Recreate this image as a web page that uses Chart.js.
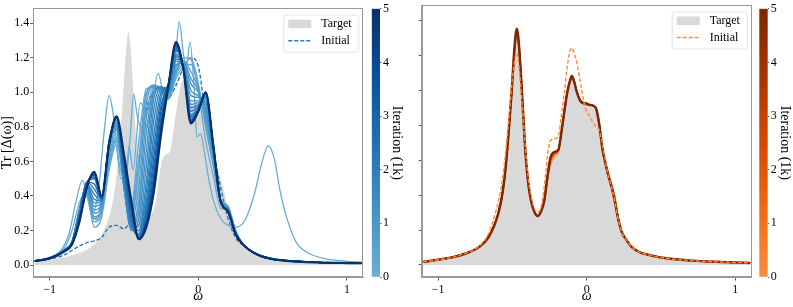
<!DOCTYPE html>
<html>
<head>
<meta charset="utf-8">
<script src="https://cdn.jsdelivr.net/npm/chart.js@4.4.1/dist/chart.umd.min.js"></script>
<style>
  body { margin: 0; background: #fff; }
  #wrap { position: relative; width: 793px; height: 307px; overflow: hidden; }
  #wrap canvas { position: absolute; top: 0; }
</style>
</head>
<body>
<div id="wrap">
  <canvas id="leftChart" width="368" height="307" style="left:0"></canvas>
  <canvas id="leftBar" width="39" height="307" style="left:366px"></canvas>
  <canvas id="rightChart" width="357" height="307" style="left:400px"></canvas>
  <canvas id="rightBar" width="38" height="307" style="left:755px"></canvas>
</div>
<script>
const FONT = "'Liberation Serif', 'Times New Roman', serif";

// ---- data ----
const xTickValues = [-1, 0, 1];
const yTickValues = [0, 0.2, 0.4, 0.6, 0.8, 1.0, 1.2, 1.4];
const colorbarTicks = [0, 1, 2, 3, 4, 5];
const legendLabels = ['Target', 'Initial'];

// target spectrum (grey fill, both panels)
const targetOmega = [-1.1, -1.0, -0.9, -0.8, -0.72, -0.66, -0.62, -0.59, -0.565, -0.545, -0.525, -0.505, -0.485, -0.47,
  -0.455, -0.435, -0.415, -0.395, -0.375, -0.355, -0.33, -0.305, -0.285, -0.265, -0.245, -0.22, -0.19, -0.17, -0.15,
  -0.13, -0.11, -0.1, -0.085, -0.07, -0.04, -0.01, 0.02, 0.045, 0.065, 0.085, 0.105, 0.14, 0.175, 0.19, 0.21, 0.235,
  0.27, 0.3, 0.35, 0.43, 0.55, 0.7, 0.9, 1.1];
const targetValues = [0.018, 0.03, 0.045, 0.07, 0.105, 0.16, 0.23, 0.31, 0.42, 0.56, 0.76, 0.99, 1.25, 1.35,
  1.25, 0.98, 0.68, 0.48, 0.37, 0.31, 0.28, 0.31, 0.37, 0.5, 0.6, 0.64, 0.66, 0.76, 0.88,
  0.99, 1.06, 1.07, 1.05, 1.0, 0.93, 0.92, 0.915, 0.91, 0.89, 0.8, 0.67, 0.53, 0.42, 0.36, 0.27, 0.19,
  0.14, 0.105, 0.075, 0.055, 0.037, 0.025, 0.017, 0.012];

// left panel: runs on a common grid
const omegaGrid = [-1.1, -1.0, -0.9, -0.85, -0.8, -0.75, -0.7, -0.65, -0.6, -0.55, -0.5, -0.45, -0.4, -0.35, -0.3,
  -0.25, -0.2, -0.15, -0.1, -0.05, 0, 0.05, 0.1, 0.15, 0.2, 0.25, 0.3, 0.4, 0.5, 0.6, 0.8, 1.0, 1.1];
const leftInitialValues = [0.022, 0.035, 0.06, 0.085, 0.11, 0.13, 0.14, 0.16, 0.22, 0.23, 0.21, 0.3, 0.6, 0.9, 1.0,
  1.02, 0.97, 1.04, 1.14, 1.2, 1.15, 0.86, 0.66, 0.45, 0.27, 0.16, 0.115, 0.06, 0.038, 0.027, 0.017, 0.013, 0.011];
const leftIterations = [0.2, 0.35, 0.5, 0.7, 0.9, 1.1, 1.3, 1.5, 1.7, 1.9, 2.1, 2.35, 2.6, 2.85, 3.1, 3.4, 3.7, 4.3, 5.0];
const leftRuns = [
  [0.024, 0.04, 0.09, 0.14, 0.3, 0.4, 0.22, 0.28, 0.55, 0.7, 0.5, 0.35, 0.72, 1.02, 1.03, 1.0, 0.96, 1.08, 1.15, 1.2, 1.05, 0.8, 0.58, 0.37, 0.33, 0.2, 0.12, 0.062, 0.036, 0.026, 0.016, 0.012, 0.011],
  [0.024, 0.04, 0.09, 0.135, 0.3, 0.41, 0.25, 0.3, 0.58, 0.72, 0.5, 0.32, 0.62, 1.0, 1.03, 1.01, 0.96, 1.1, 1.16, 1.16, 1.04, 0.8, 0.59, 0.37, 0.33, 0.2, 0.12, 0.062, 0.036, 0.026, 0.016, 0.012, 0.011],
  [0.024, 0.04, 0.09, 0.13, 0.3, 0.42, 0.27, 0.32, 0.6, 0.74, 0.48, 0.28, 0.55, 0.98, 1.04, 1.02, 0.97, 1.12, 1.18, 1.12, 1.02, 0.82, 0.6, 0.38, 0.34, 0.2, 0.12, 0.062, 0.036, 0.026, 0.016, 0.012, 0.011],
  [0.024, 0.04, 0.089, 0.13, 0.3, 0.42, 0.28, 0.33, 0.63, 0.76, 0.46, 0.25, 0.46, 0.93, 1.04, 1.02, 0.97, 1.13, 1.18, 1.08, 1.01, 0.85, 0.61, 0.38, 0.34, 0.2, 0.12, 0.062, 0.036, 0.026, 0.016, 0.012, 0.011],
  [0.024, 0.04, 0.088, 0.13, 0.3, 0.43, 0.3, 0.35, 0.66, 0.78, 0.45, 0.22, 0.38, 0.85, 1.03, 1.03, 0.98, 1.15, 1.18, 1.05, 1.0, 0.88, 0.63, 0.37, 0.33, 0.19, 0.12, 0.061, 0.036, 0.026, 0.016, 0.012, 0.011],
  [0.024, 0.04, 0.088, 0.13, 0.31, 0.44, 0.32, 0.35, 0.68, 0.79, 0.45, 0.21, 0.32, 0.76, 1.02, 1.03, 0.99, 1.16, 1.17, 1.01, 0.98, 0.9, 0.64, 0.37, 0.33, 0.19, 0.12, 0.061, 0.036, 0.026, 0.016, 0.012, 0.011],
  [0.024, 0.04, 0.087, 0.13, 0.32, 0.45, 0.34, 0.36, 0.7, 0.8, 0.45, 0.2, 0.27, 0.66, 1.0, 1.03, 1.0, 1.18, 1.16, 0.98, 0.97, 0.92, 0.65, 0.37, 0.32, 0.19, 0.12, 0.061, 0.036, 0.026, 0.016, 0.012, 0.011],
  [0.024, 0.04, 0.087, 0.13, 0.32, 0.46, 0.36, 0.36, 0.71, 0.81, 0.46, 0.21, 0.23, 0.57, 0.96, 1.03, 1.01, 1.19, 1.15, 0.95, 0.95, 0.94, 0.66, 0.37, 0.32, 0.19, 0.12, 0.061, 0.036, 0.026, 0.016, 0.012, 0.011],
  [0.024, 0.04, 0.086, 0.13, 0.32, 0.47, 0.38, 0.37, 0.72, 0.82, 0.48, 0.22, 0.2, 0.48, 0.9, 1.03, 1.02, 1.2, 1.14, 0.93, 0.94, 0.95, 0.67, 0.37, 0.32, 0.19, 0.12, 0.06, 0.035, 0.025, 0.016, 0.012, 0.011],
  [0.024, 0.04, 0.086, 0.13, 0.31, 0.47, 0.41, 0.37, 0.72, 0.83, 0.5, 0.23, 0.18, 0.42, 0.83, 1.02, 1.03, 1.21, 1.14, 0.91, 0.93, 0.96, 0.67, 0.37, 0.32, 0.19, 0.12, 0.06, 0.035, 0.025, 0.016, 0.012, 0.011],
  [0.024, 0.039, 0.085, 0.13, 0.3, 0.48, 0.44, 0.38, 0.72, 0.84, 0.52, 0.25, 0.17, 0.36, 0.75, 1.0, 1.04, 1.22, 1.14, 0.89, 0.92, 0.97, 0.68, 0.37, 0.31, 0.19, 0.12, 0.06, 0.035, 0.025, 0.016, 0.012, 0.011],
  [0.024, 0.039, 0.085, 0.13, 0.29, 0.48, 0.47, 0.38, 0.71, 0.85, 0.54, 0.26, 0.165, 0.33, 0.68, 0.97, 1.05, 1.24, 1.14, 0.87, 0.91, 0.98, 0.69, 0.37, 0.31, 0.19, 0.12, 0.06, 0.035, 0.025, 0.016, 0.012, 0.011],
  [0.024, 0.039, 0.084, 0.13, 0.28, 0.48, 0.5, 0.38, 0.7, 0.85, 0.56, 0.28, 0.16, 0.3, 0.62, 0.93, 1.05, 1.25, 1.14, 0.86, 0.9, 0.99, 0.69, 0.37, 0.31, 0.19, 0.12, 0.06, 0.035, 0.025, 0.016, 0.012, 0.011],
  [0.024, 0.039, 0.084, 0.128, 0.275, 0.47, 0.51, 0.385, 0.7, 0.855, 0.58, 0.3, 0.155, 0.28, 0.57, 0.9, 1.05, 1.26, 1.14, 0.85, 0.895, 0.995, 0.7, 0.37, 0.31, 0.185, 0.12, 0.06, 0.035, 0.025, 0.016, 0.012, 0.011],
  [0.024, 0.039, 0.083, 0.125, 0.27, 0.47, 0.52, 0.39, 0.7, 0.86, 0.6, 0.32, 0.15, 0.26, 0.52, 0.86, 1.05, 1.27, 1.14, 0.84, 0.89, 1.0, 0.7, 0.37, 0.31, 0.18, 0.12, 0.06, 0.035, 0.025, 0.016, 0.012, 0.011],
  [0.024, 0.039, 0.083, 0.122, 0.265, 0.465, 0.525, 0.39, 0.7, 0.86, 0.61, 0.335, 0.15, 0.25, 0.5, 0.83, 1.05, 1.275, 1.14, 0.835, 0.89, 1.0, 0.7, 0.37, 0.31, 0.18, 0.12, 0.06, 0.035, 0.025, 0.016, 0.012, 0.011],
  [0.024, 0.039, 0.082, 0.12, 0.26, 0.46, 0.53, 0.39, 0.7, 0.86, 0.62, 0.35, 0.15, 0.24, 0.47, 0.8, 1.05, 1.28, 1.14, 0.83, 0.89, 1.0, 0.7, 0.37, 0.31, 0.18, 0.12, 0.06, 0.035, 0.025, 0.016, 0.012, 0.011],
  [0.024, 0.039, 0.081, 0.12, 0.25, 0.45, 0.54, 0.4, 0.7, 0.86, 0.63, 0.36, 0.15, 0.23, 0.44, 0.78, 1.04, 1.29, 1.13, 0.82, 0.89, 1.0, 0.7, 0.37, 0.31, 0.18, 0.12, 0.06, 0.035, 0.025, 0.016, 0.012, 0.011],
  [0.024, 0.039, 0.08, 0.12, 0.25, 0.45, 0.54, 0.4, 0.7, 0.86, 0.64, 0.37, 0.15, 0.22, 0.42, 0.76, 1.04, 1.29, 1.13, 0.82, 0.89, 1.0, 0.7, 0.37, 0.31, 0.18, 0.12, 0.06, 0.035, 0.025, 0.016, 0.012, 0.011]
];

// two early, very wiggly runs with their own sampling
const leftFirstIteration = 0.05;
const leftFirstOmega = [-1.1, -1.0, -0.92, -0.87, -0.82, -0.78, -0.745, -0.71, -0.67, -0.63, -0.6, -0.57, -0.53, -0.49,
  -0.46, -0.435, -0.41, -0.375, -0.32, -0.27, -0.23, -0.19, -0.155, -0.128, -0.1, -0.08, -0.056, -0.03, -0.01, 0.015,
  0.04, 0.07, 0.1, 0.15, 0.2, 0.26, 0.32, 0.38, 0.43, 0.47, 0.51, 0.55, 0.6, 0.66, 0.74, 0.85, 1.0, 1.1];
const leftFirstValues = [0.025, 0.045, 0.09, 0.18, 0.38, 0.49, 0.4, 0.3, 0.45, 0.8, 0.98, 0.86, 0.58, 0.5,
  0.72, 0.99, 0.86, 0.78, 0.88, 1.11, 0.98, 0.97, 1.18, 1.41, 1.22, 1.15, 1.29, 1.05, 0.74, 0.76,
  0.66, 0.5, 0.38, 0.27, 0.23, 0.22, 0.27, 0.42, 0.6, 0.69, 0.62, 0.43, 0.26, 0.13, 0.07, 0.038, 0.022, 0.017];
const leftSecondIteration = 0.12;
const leftSecondOmega = [-1.1, -1.0, -0.9, -0.85, -0.8, -0.76, -0.72, -0.68, -0.64, -0.6, -0.56, -0.52, -0.49, -0.465,
  -0.44, -0.39, -0.35, -0.3, -0.25, -0.2, -0.15, -0.1, -0.05, 0, 0.05, 0.1, 0.15, 0.2, 0.25, 0.3, 0.4, 0.5, 0.6, 0.8, 1.0, 1.1];
const leftSecondValues = [0.024, 0.042, 0.1, 0.2, 0.36, 0.42, 0.3, 0.26, 0.42, 0.7, 0.72, 0.5, 0.5, 0.69,
  0.55, 0.94, 0.88, 1.0, 1.02, 0.97, 1.1, 1.2, 1.19, 1.0, 0.72, 0.52, 0.33, 0.32, 0.2, 0.12, 0.062, 0.037, 0.026, 0.016, 0.012, 0.011];

// right panel: runs on the target grid
const rightInitialValues = [0.018, 0.03, 0.045, 0.072, 0.11, 0.18, 0.28, 0.38, 0.5, 0.65, 0.82, 1.02, 1.17, 1.21,
  1.13, 0.93, 0.7, 0.51, 0.4, 0.33, 0.3, 0.34, 0.45, 0.62, 0.71, 0.72, 0.74, 0.86, 0.99,
  1.14, 1.23, 1.24, 1.21, 1.17, 1.03, 0.9, 0.85, 0.81, 0.79, 0.77, 0.69, 0.53, 0.42, 0.36, 0.27, 0.19,
  0.14, 0.105, 0.075, 0.055, 0.037, 0.025, 0.017, 0.012];
const rightIterations = [0.3, 1.0, 2.5, 5.0];
const rightRuns = [
  [0.018, 0.03, 0.045, 0.07, 0.105, 0.16, 0.23, 0.31, 0.42, 0.56, 0.75, 0.97, 1.22, 1.31,
    1.22, 0.97, 0.68, 0.48, 0.37, 0.31, 0.285, 0.31, 0.37, 0.48, 0.57, 0.62, 0.65, 0.76, 0.88,
    0.99, 1.06, 1.07, 1.05, 1.0, 0.93, 0.92, 0.915, 0.91, 0.89, 0.8, 0.67, 0.54, 0.44, 0.39, 0.28, 0.19,
    0.14, 0.105, 0.075, 0.055, 0.037, 0.025, 0.017, 0.012],
  [0.018, 0.03, 0.045, 0.07, 0.105, 0.16, 0.23, 0.31, 0.42, 0.56, 0.76, 0.98, 1.24, 1.33,
    1.24, 0.98, 0.68, 0.48, 0.37, 0.31, 0.28, 0.31, 0.37, 0.49, 0.59, 0.63, 0.655, 0.76, 0.88,
    0.99, 1.06, 1.07, 1.05, 1.0, 0.93, 0.92, 0.915, 0.91, 0.89, 0.8, 0.67, 0.535, 0.43, 0.375, 0.275, 0.19,
    0.14, 0.105, 0.075, 0.055, 0.037, 0.025, 0.017, 0.012],
  [0.018, 0.03, 0.045, 0.07, 0.105, 0.16, 0.23, 0.31, 0.42, 0.56, 0.76, 0.99, 1.25, 1.35,
    1.25, 0.98, 0.68, 0.48, 0.37, 0.31, 0.28, 0.31, 0.37, 0.5, 0.6, 0.64, 0.66, 0.76, 0.88,
    0.99, 1.06, 1.07, 1.05, 1.0, 0.93, 0.92, 0.915, 0.91, 0.89, 0.8, 0.67, 0.53, 0.42, 0.36, 0.27, 0.19,
    0.14, 0.105, 0.075, 0.055, 0.037, 0.025, 0.017, 0.012],
  [0.018, 0.03, 0.045, 0.07, 0.105, 0.16, 0.23, 0.31, 0.42, 0.56, 0.76, 0.99, 1.25, 1.35,
    1.25, 0.98, 0.68, 0.48, 0.37, 0.31, 0.28, 0.31, 0.37, 0.5, 0.61, 0.645, 0.66, 0.76, 0.88,
    0.99, 1.06, 1.08, 1.05, 1.0, 0.935, 0.925, 0.915, 0.91, 0.89, 0.8, 0.67, 0.53, 0.42, 0.36, 0.27, 0.19,
    0.14, 0.105, 0.075, 0.055, 0.037, 0.025, 0.017, 0.012]
];

// ---- styling helpers ----
const BLUES = ['#6baed6', '#4292c6', '#2171b5', '#08519c', '#08306b'];
const ORANGES = ['#fd8d3c', '#f16913', '#d94801', '#a63603', '#7f2704'];

function hexToRgb(h) {
  return [1, 3, 5].map(i => parseInt(h.slice(i, i + 2), 16));
}

function mapColor(stops, t) {
  const f = Math.min(Math.max(t / 5, 0), 1) * (stops.length - 1);
  const i = Math.min(Math.floor(f), stops.length - 2);
  const a = hexToRgb(stops[i]), b = hexToRgb(stops[i + 1]);
  const k = f - i;
  const c = a.map((v, j) => Math.round(v + (b[j] - v) * k));
  return `rgb(${c[0]},${c[1]},${c[2]})`;
}

function pairs(xs, ys) {
  return xs.map((x, i) => ({ x, y: ys[i] }));
}

function curve(xs, ys, color, width, order, dash) {
  return {
    data: pairs(xs, ys),
    borderColor: color,
    borderWidth: width,
    borderDash: dash || [],
    pointRadius: 0,
    fill: false,
    cubicInterpolationMode: 'monotone',
    order,
  };
}

function targetSet() {
  return {
    data: pairs(targetOmega, targetValues),
    borderColor: 'rgba(0,0,0,0)',
    borderWidth: 0,
    backgroundColor: '#d9d9d9',
    fill: 'origin',
    pointRadius: 0,
    cubicInterpolationMode: 'monotone',
    order: 1000,
  };
}

const frameBox = {
  id: 'frameBox',
  afterDraw(chart) {
    const { ctx, chartArea: a } = chart;
    ctx.save();
    ctx.strokeStyle = '#999';
    ctx.lineWidth = 1;
    ctx.strokeRect(Math.round(a.left) + 0.5, Math.round(a.top) + 0.5,
      Math.round(a.right - a.left) - 1, Math.round(a.bottom - a.top) - 1);
    ctx.restore();
  },
};

const legendBox = {
  id: 'legendBox',
  afterDraw(chart, args, opts) {
    const { ctx, chartArea: a } = chart;
    const w = 75, h = 37;
    const x = a.right - 5 - w, y = a.top + 6.5;
    ctx.save();
    ctx.fillStyle = 'rgba(255,255,255,0.85)';
    ctx.strokeStyle = '#e3e3e3';
    ctx.lineWidth = 1;
    ctx.beginPath();
    ctx.roundRect(x + 0.5, y + 0.5, w, h, 2.5);
    ctx.fill();
    ctx.stroke();
    ctx.fillStyle = '#d9d9d9';
    ctx.fillRect(x + 5, y + 5, 23, 8.5);
    ctx.strokeStyle = opts.dashColor;
    ctx.lineWidth = 1.4;
    ctx.setLineDash([4, 2]);
    ctx.beginPath();
    ctx.moveTo(x + 5, y + 26);
    ctx.lineTo(x + 28, y + 26);
    ctx.stroke();
    ctx.setLineDash([]);
    ctx.fillStyle = '#000';
    ctx.font = `12px ${FONT}`;
    ctx.textBaseline = 'middle';
    ctx.fillText(legendLabels[0], x + 38, y + 9.5);
    ctx.fillText(legendLabels[1], x + 38, y + 26);
    ctx.restore();
  },
};

function fmtTick(v) {
  if (v === 0) return '0';
  return v < 0 ? '\u2212' + Math.abs(v) : String(v);
}

function spectrumOptions(yWidth, padRight, showY, dashColor) {
  return {
    responsive: false,
    animation: false,
    events: [],
    layout: { padding: { left: 0, right: padRight, top: 5, bottom: 0 } },
    plugins: {
      legend: { display: false },
      tooltip: { enabled: false },
      legendBox: { dashColor },
    },
    scales: {
      x: {
        type: 'linear',
        min: -1.11,
        max: 1.11,
        afterFit: s => { s.height = 30; },
        afterBuildTicks: s => { s.ticks = xTickValues.map(v => ({ value: v })); },
        grid: { drawOnChartArea: false, tickLength: 3.5, color: '#555' },
        border: { color: '#999' },
        ticks: { font: { family: FONT, size: 12 }, color: '#000', padding: 2, maxRotation: 0, autoSkip: false, callback: fmtTick },
        title: { display: true, text: 'ω', color: '#000', font: { family: FONT, size: 14, style: 'italic' }, padding: { top: 0, bottom: 2 } },
      },
      y: {
        type: 'linear',
        min: -0.0686,
        max: 1.486,
        afterFit: s => { s.width = yWidth; },
        afterBuildTicks: s => { s.ticks = yTickValues.map(v => ({ value: v })); },
        grid: { drawOnChartArea: false, tickLength: 3, color: '#555' },
        border: { color: '#999' },
        ticks: { display: showY, font: { family: FONT, size: 12 }, color: '#000', padding: 1, callback: v => v.toFixed(1) },
        title: { display: showY, text: 'Tr [Δ(ω)]', color: '#000', font: { family: FONT, size: 14, lineHeight: 1.1 }, padding: 0 },
      },
    },
  };
}

// ---- left panel ----
const leftSets = [targetSet()];
leftSets.push(curve(omegaGrid, leftInitialValues, '#2c7bb6', 1.4, 900, [4, 2]));
leftSets.push(curve(leftFirstOmega, leftFirstValues, mapColor(BLUES, leftFirstIteration), 1.3, 700));
leftSets.push(curve(leftSecondOmega, leftSecondValues, mapColor(BLUES, leftSecondIteration), 1.3, 699));
leftRuns.forEach((run, i) => {
  const last = i === leftRuns.length - 1;
  leftSets.push(curve(omegaGrid, run, mapColor(BLUES, leftIterations[i]), last ? 2.2 : 1.4, 500 - i));
});

new Chart(document.getElementById('leftChart'), {
  type: 'line',
  data: { datasets: leftSets },
  options: spectrumOptions(33.3, 4.7, true, '#2c7bb6'),
  plugins: [frameBox, legendBox],
});

// ---- right panel ----
const rightSets = [targetSet()];
rightRuns.forEach((run, i) => {
  const last = i === rightRuns.length - 1;
  rightSets.push(curve(targetOmega, run, mapColor(ORANGES, rightIterations[i]), last ? 2.5 : 1.6, 500 - i));
});
rightSets.push(curve(targetOmega, rightInitialValues, '#fb8b3c', 1.4, 0, [4, 2]));

new Chart(document.getElementById('rightChart'), {
  type: 'line',
  data: { datasets: rightSets },
  options: spectrumOptions(21.7, 5.3, false, '#fb8b3c'),
  plugins: [frameBox, legendBox],
});

// ---- colorbars ----
function makeColorbar(id, stops, padLeft, axisWidth) {
  new Chart(document.getElementById(id), {
    type: 'bar',
    data: {
      labels: ['iteration'],
      datasets: [{
        data: [[0, 5]],
        borderWidth: 0,
        barPercentage: 1,
        categoryPercentage: 1,
        backgroundColor: c => {
          const a = c.chart.chartArea;
          if (!a) return stops[0];
          const g = c.chart.ctx.createLinearGradient(0, a.bottom, 0, a.top);
          stops.forEach((s, i) => g.addColorStop(i / (stops.length - 1), s));
          return g;
        },
      }],
    },
    options: {
      responsive: false,
      animation: false,
      events: [],
      layout: { padding: { left: padLeft, right: 0, top: 5, bottom: 30 } },
      plugins: { legend: { display: false }, tooltip: { enabled: false } },
      scales: {
        x: { display: false },
        y: {
          position: 'right',
          min: 0,
          max: 5,
          afterFit: s => { s.width = axisWidth; },
          afterBuildTicks: s => { s.ticks = colorbarTicks.map(v => ({ value: v })); },
          grid: { drawOnChartArea: false, tickLength: 1.5, color: '#666' },
          border: { display: false },
          ticks: { font: { family: FONT, size: 12 }, color: '#000', padding: 1.5 },
          title: { display: true, text: 'Iteration (1k)', color: '#000', font: { family: FONT, size: 14 }, padding: 0 },
        },
      },
    },
  });
}

makeColorbar('leftBar', BLUES, 5.7, 25);
makeColorbar('rightBar', ORANGES, 4.3, 25.3);
</script>
</body>
</html>
